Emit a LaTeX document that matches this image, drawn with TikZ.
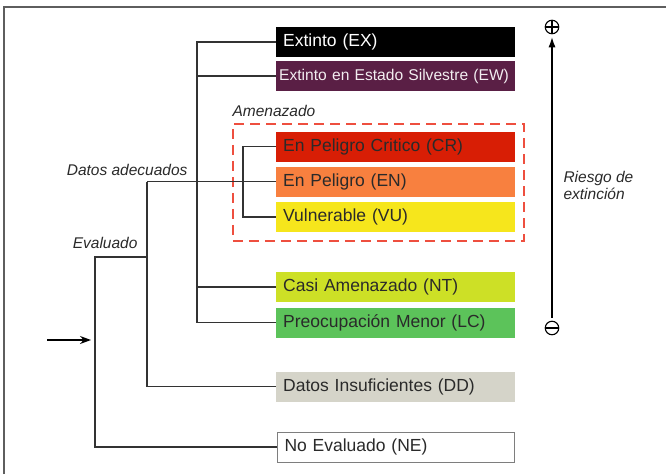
\documentclass[tikz,border=0pt]{standalone}
\usepackage{fontspec}
\setmainfont{Liberation Sans}
\usetikzlibrary{arrows.meta}
\definecolor{framegray}{HTML}{5E5E5E}
\definecolor{linegray}{HTML}{333333}
\definecolor{labgray}{HTML}{2A2A2A}
\definecolor{cEW}{HTML}{5A1F45}
\definecolor{cCR}{HTML}{D81E05}
\definecolor{cEN}{HTML}{F8803F}
\definecolor{cVU}{HTML}{F6E61C}
\definecolor{cNT}{HTML}{CDE026}
\definecolor{cLC}{HTML}{5CC35A}
\definecolor{cDD}{HTML}{D5D4C9}
\definecolor{dashred}{HTML}{EE4F3F}
\begin{document}
\begin{tikzpicture}[x=1pt,y=-1pt,
  catbox/.style={rectangle, anchor=west, minimum height=30pt, text width=225pt,
    inner xsep=7pt, inner ysep=0pt, align=left, text=labgray,
    font=\fontsize{17.5}{20}\selectfont},
  tree/.style={draw=linegray, line width=1.4pt},
  lab/.style={font=\fontsize{15.5}{17}\selectfont\itshape, text=labgray},
  sign/.style={circle, draw=black, line width=1.1pt, minimum size=13.5pt, inner sep=0pt}]
\useasboundingbox (0,0) rectangle (666,474);
\fill[white] (0,0) rectangle (666,474);
\draw[framegray, line width=2pt] (4,474) -- (4,7) -- (666,7);

% category boxes
\node[catbox, fill=black, text=white] (ex) at (276,42) {Extinto (EX)};
\node[catbox, fill=cEW, text=white!92!cEW, inner xsep=3pt, text width=233pt,
      font=\fontsize{15.6}{18}\selectfont] (ew) at (276,76) {\mbox{Extinto en Estado Silvestre (EW)}};
\node[catbox, fill=cCR] (cr) at (276,146.5) {En Peligro Critico (CR)};
\node[catbox, fill=cEN] (en) at (276,181.5) {En Peligro (EN)};
\node[catbox, fill=cVU] (vu) at (276,217) {Vulnerable (VU)};
\node[catbox, fill=cNT] (nt) at (276,287) {Casi Amenazado (NT)};
\node[catbox, fill=cLC] (lc) at (276,322.5) {Preocupación Menor (LC)};
\node[catbox, fill=cDD] (dd) at (276,386.5) {Datos Insuficientes (DD)};
\node[catbox, fill=white, draw=framegray!80, line width=1pt, text width=223pt] (ne) at (277,447) {No Evaluado (NE)};

% threatened group
\node[draw=dashred, line width=1.5pt, dash pattern=on 10pt off 6pt, anchor=north west,
      minimum width=291pt, minimum height=117pt, inner sep=0pt] (thr) at (232,123) {};
\node[lab, anchor=west] (amz) at (229,111) {Amenazado};

% labels
\node[lab, anchor=east] (adqlab) at (191,170) {Datos adecuados};
\node[lab, anchor=east] (evlab) at (141,243) {Evaluado};
\node[lab, anchor=west, align=left] (risk) at (560,185) {Riesgo de\\extinción};

% junction coordinates
\coordinate (adqx) at (197,0);
\coordinate (amx) at (243,0);
\coordinate (dax) at (147,0);
\coordinate (ev) at (147,257);
\coordinate (evx) at (95,0);
\coordinate (in) at (47,340);

% tree connectors
\draw[tree] (ex.west) -- (ex.west -| adqx) |- (lc.west);
\draw[tree] (ew.west) -- (ew.west -| adqx);
\draw[tree] (nt.west) -- (nt.west -| adqx);
\draw[tree] (cr.west) -- (cr.west -| amx) |- (vu.west);
\draw[tree] (en.west -| dax) -- (en.west);
\draw[tree] (en.west -| dax) |- (dd.west);
\draw[tree] (ev) -- (ev -| evx) |- (ne.west);
\draw[line width=1.2pt, -{Stealth[length=11pt,width=8pt]}, shorten >=4pt] (in) -- (in -| evx);

% risk axis
\node[sign] (plus) at (552,27) {};
\draw[line width=1.1pt] (plus.west) -- (plus.east) (plus.north) -- (plus.south);
\node[sign] (minus) at (552,328) {};
\draw[line width=1.1pt] (minus.west) -- (minus.east);
\draw[line width=1.1pt, -{Latex[length=10pt,width=7pt]}, shorten >=3pt, shorten <=3pt] (minus.north) -- (plus.south);
\end{tikzpicture}
\end{document}
